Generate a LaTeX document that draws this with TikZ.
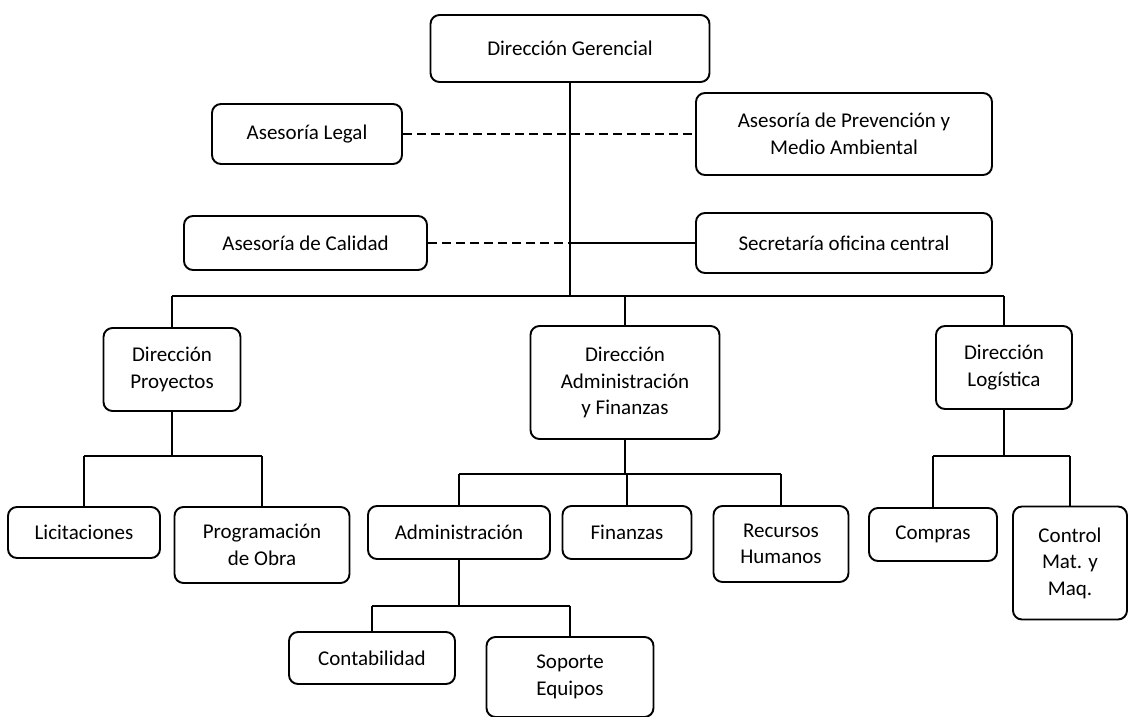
\documentclass[tikz,border=0pt]{standalone}
\usepackage{fontspec}
\setmainfont{Carlito}
\begin{document}
\begin{tikzpicture}[x=1pt,y=-1pt,
  caja/.style={draw,rounded corners=9pt,line width=1.9pt,align=center,inner sep=0pt,font=\fontsize{21}{26.5}\selectfont},
  linea/.style={line width=1.3pt},
  rayas/.style={line width=1.3pt,dash pattern=on 9pt off 5pt}]
\useasboundingbox (0,0) rectangle (1128,717);

\node[caja,minimum width=279,minimum height=67] (dg) at (570,48.5) {Dirección Gerencial};

\node[caja,minimum width=190,minimum height=60] (legal) at (307,134) {Asesoría Legal};
\node[caja,minimum width=296,minimum height=82] (apma) at (844,134) {Asesoría de Prevención y\\Medio Ambiental};
\node[caja,minimum width=243,minimum height=54] (cal) at (305.5,243) {Asesoría de Calidad};
\node[caja,minimum width=296,minimum height=60] (sec) at (844,243) {Secretaría oficina central};

\node[caja,minimum width=137,minimum height=83] (dp) at (172,369.5) {Dirección\\Proyectos};
\node[caja,minimum width=189,minimum height=113] (daf) at (625,382.5) {Dirección\\Administración\\y Finanzas};
\node[caja,minimum width=136,minimum height=83] (dl) at (1004,367.5) {Dirección\\Logística};

\node[caja,minimum width=152,minimum height=51] (lic) at (84,532.5) {Licitaciones};
\node[caja,minimum width=175,minimum height=76] (prog) at (262,545) {Programación\\de Obra};

\node[caja,minimum width=182,minimum height=53] (adm) at (459,532.5) {Administración};
\node[caja,minimum width=129,minimum height=53] (fin) at (627,532.5) {Finanzas};
\node[caja,minimum width=135,minimum height=76] (rrhh) at (781,544) {Recursos\\Humanos};

\node[caja,minimum width=128,minimum height=53] (comp) at (933,534.5) {Compras};
\node[caja,minimum width=114,minimum height=113] (ctrl) at (1070,563) {Control\\Mat. y\\Maq.};

\node[caja,minimum width=166,minimum height=52] (cont) at (372,658) {Contabilidad};
\node[caja,minimum width=167,minimum height=80] (sop) at (570,677) {Soporte\\Equipos};

% tronco principal
\coordinate (bus) at (570,296);
\draw[linea] (dg.south) -- (dg.south |- bus);
\draw[rayas] (legal.east) -- (apma.west);
\draw[rayas] (cal.east) -- (cal.east -| bus);
\draw[linea] (cal.east -| bus) -- (sec.west);

\draw[linea] (dp.north |- bus) -- (dl.north |- bus);
\draw[linea] (dp.north |- bus) -- (dp.north);
\draw[linea] (daf.north |- bus) -- (daf.north);
\draw[linea] (dl.north |- bus) -- (dl.north);

% proyectos
\coordinate (bp) at (172,456);
\draw[linea] (dp.south) -- (dp.south |- bp);
\draw[linea] (lic.north |- bp) -- (prog.north |- bp);
\draw[linea] (lic.north |- bp) -- (lic.north);
\draw[linea] (prog.north |- bp) -- (prog.north);

% administracion y finanzas
\coordinate (ba) at (625,474);
\draw[linea] (daf.south) -- (daf.south |- ba);
\draw[linea] (adm.north |- ba) -- (rrhh.north |- ba);
\draw[linea] (adm.north |- ba) -- (adm.north);
\draw[linea] (fin.north |- ba) -- (fin.north);
\draw[linea] (rrhh.north |- ba) -- (rrhh.north);

\coordinate (bc) at (457,606);
\draw[linea] (adm.south) -- (adm.south |- bc);
\draw[linea] (cont.north |- bc) -- (sop.north |- bc);
\draw[linea] (cont.north |- bc) -- (cont.north);
\draw[linea] (sop.north |- bc) -- (sop.north);

% logistica
\coordinate (bl) at (1003,456);
\draw[linea] (dl.south) -- (dl.south |- bl);
\draw[linea] (comp.north |- bl) -- (ctrl.north |- bl);
\draw[linea] (comp.north |- bl) -- (comp.north);
\draw[linea] (ctrl.north |- bl) -- (ctrl.north);

\end{tikzpicture}
\end{document}
